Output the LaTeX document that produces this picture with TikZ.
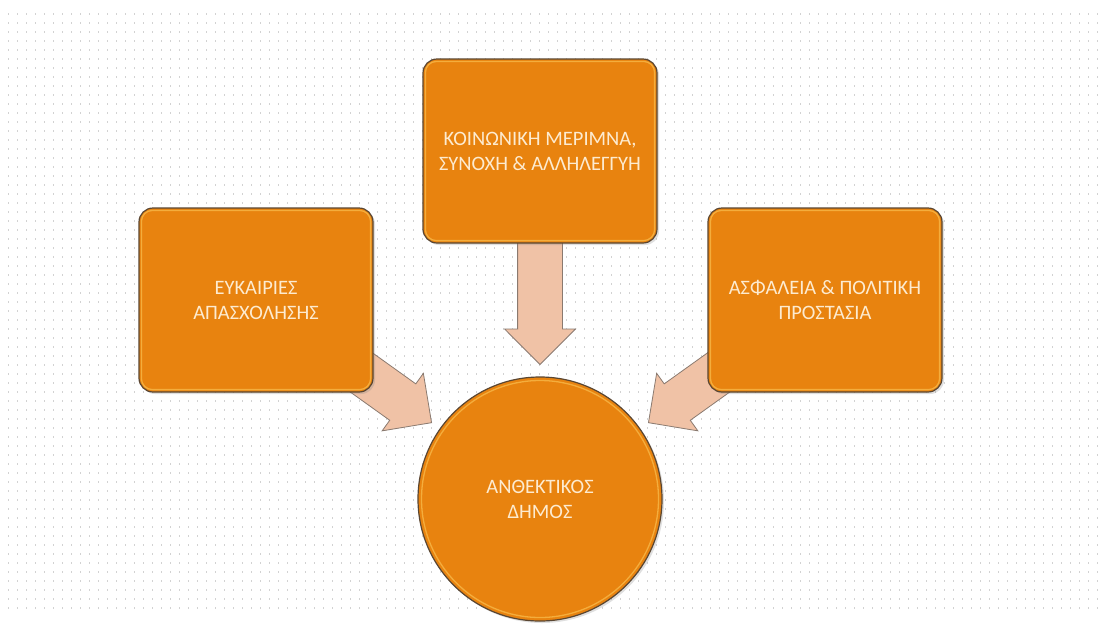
\documentclass[tikz,border=0pt]{standalone}
\usepackage{fontspec}
\setmainfont{Carlito}
\usetikzlibrary{shapes.arrows,shadows,calc}
\definecolor{boxorange}{HTML}{E8830F}
\definecolor{boxedge}{HTML}{5A4632}
\definecolor{glow}{HTML}{F8B848}
\definecolor{txt}{HTML}{FDEBD0}
\definecolor{arrowfill}{HTML}{F0C2A6}
\definecolor{arrowedge}{HTML}{8A7A70}
\definecolor{griddot}{HTML}{D2D2D2}
\begin{document}
\begin{tikzpicture}[x=1pt,y=-1pt,
  topic/.style={rectangle, rounded corners=14pt, minimum width=234pt, minimum height=184pt,
    fill=boxorange, draw=boxedge, line width=1.2pt, text=txt,
    font=\fontsize{20.5}{25}\selectfont, align=center,
    drop shadow={opacity=0.25, shadow xshift=2pt, shadow yshift=-2pt}},
  hubstyle/.style={circle, minimum size=244pt, fill=boxorange, draw=boxedge, line width=1.2pt,
    text=txt, font=\fontsize{20.5}{25}\selectfont, align=center,
    drop shadow={opacity=0.25, shadow xshift=2pt, shadow yshift=-2pt}},
  innerglow/.style={draw=glow, line width=1.3pt, opacity=0.8},
  bigarrow/.style={single arrow, single arrow head extend=13pt, inner xsep=0pt, inner ysep=22pt,
    minimum width=0pt, anchor=tip, fill=arrowfill, draw=arrowedge, line width=0.8pt}]
\useasboundingbox (0,0) rectangle (1105,630);
\fill[white] (0,0) rectangle (1105,630);
% dotted background grid
\foreach \yy in {14,23,...,610}
  \draw[griddot, line width=1.1pt, dash pattern=on 1.1pt off 7.9pt] (8,\yy) -- (1100,\yy);
% block arrows (tips placed at the given points)
\node[bigarrow, minimum height=135pt, rotate=-90] (adown) at (540,365) {};
\node[bigarrow, minimum height=130pt, rotate=-35.6] (aleft) at (432,423) {};
\node[bigarrow, minimum height=130pt, rotate=-144.4] (aright) at (648,423) {};
% boxes
\node[topic] (left) at (256,300) {ΕΥΚΑΙΡΙΕΣ\\ΑΠΑΣΧΟΛΗΣΗΣ};
\node[topic] (top) at (540,151) {ΚΟΙΝΩΝΙΚΗ ΜΕΡΙΜΝΑ,\\ΣΥΝΟΧΗ \& ΑΛΛΗΛΕΓΓΥΗ};
\node[topic] (right) at (825,300) {ΑΣΦΑΛΕΙΑ \& ΠΟΛΙΤΙΚΗ\\ΠΡΟΣΤΑΣΙΑ};
\foreach \b in {left,top,right}
  \draw[innerglow, rounded corners=11pt] ($(\b.north west)+(3,3)$) rectangle ($(\b.south east)+(-3,-3)$);
\node[hubstyle] (hub) at (540,499) {ΑΝΘΕΚΤΙΚΟΣ\\ΔΗΜΟΣ};
\draw[innerglow] (hub.center) circle (118.5pt);
\end{tikzpicture}
\end{document}
